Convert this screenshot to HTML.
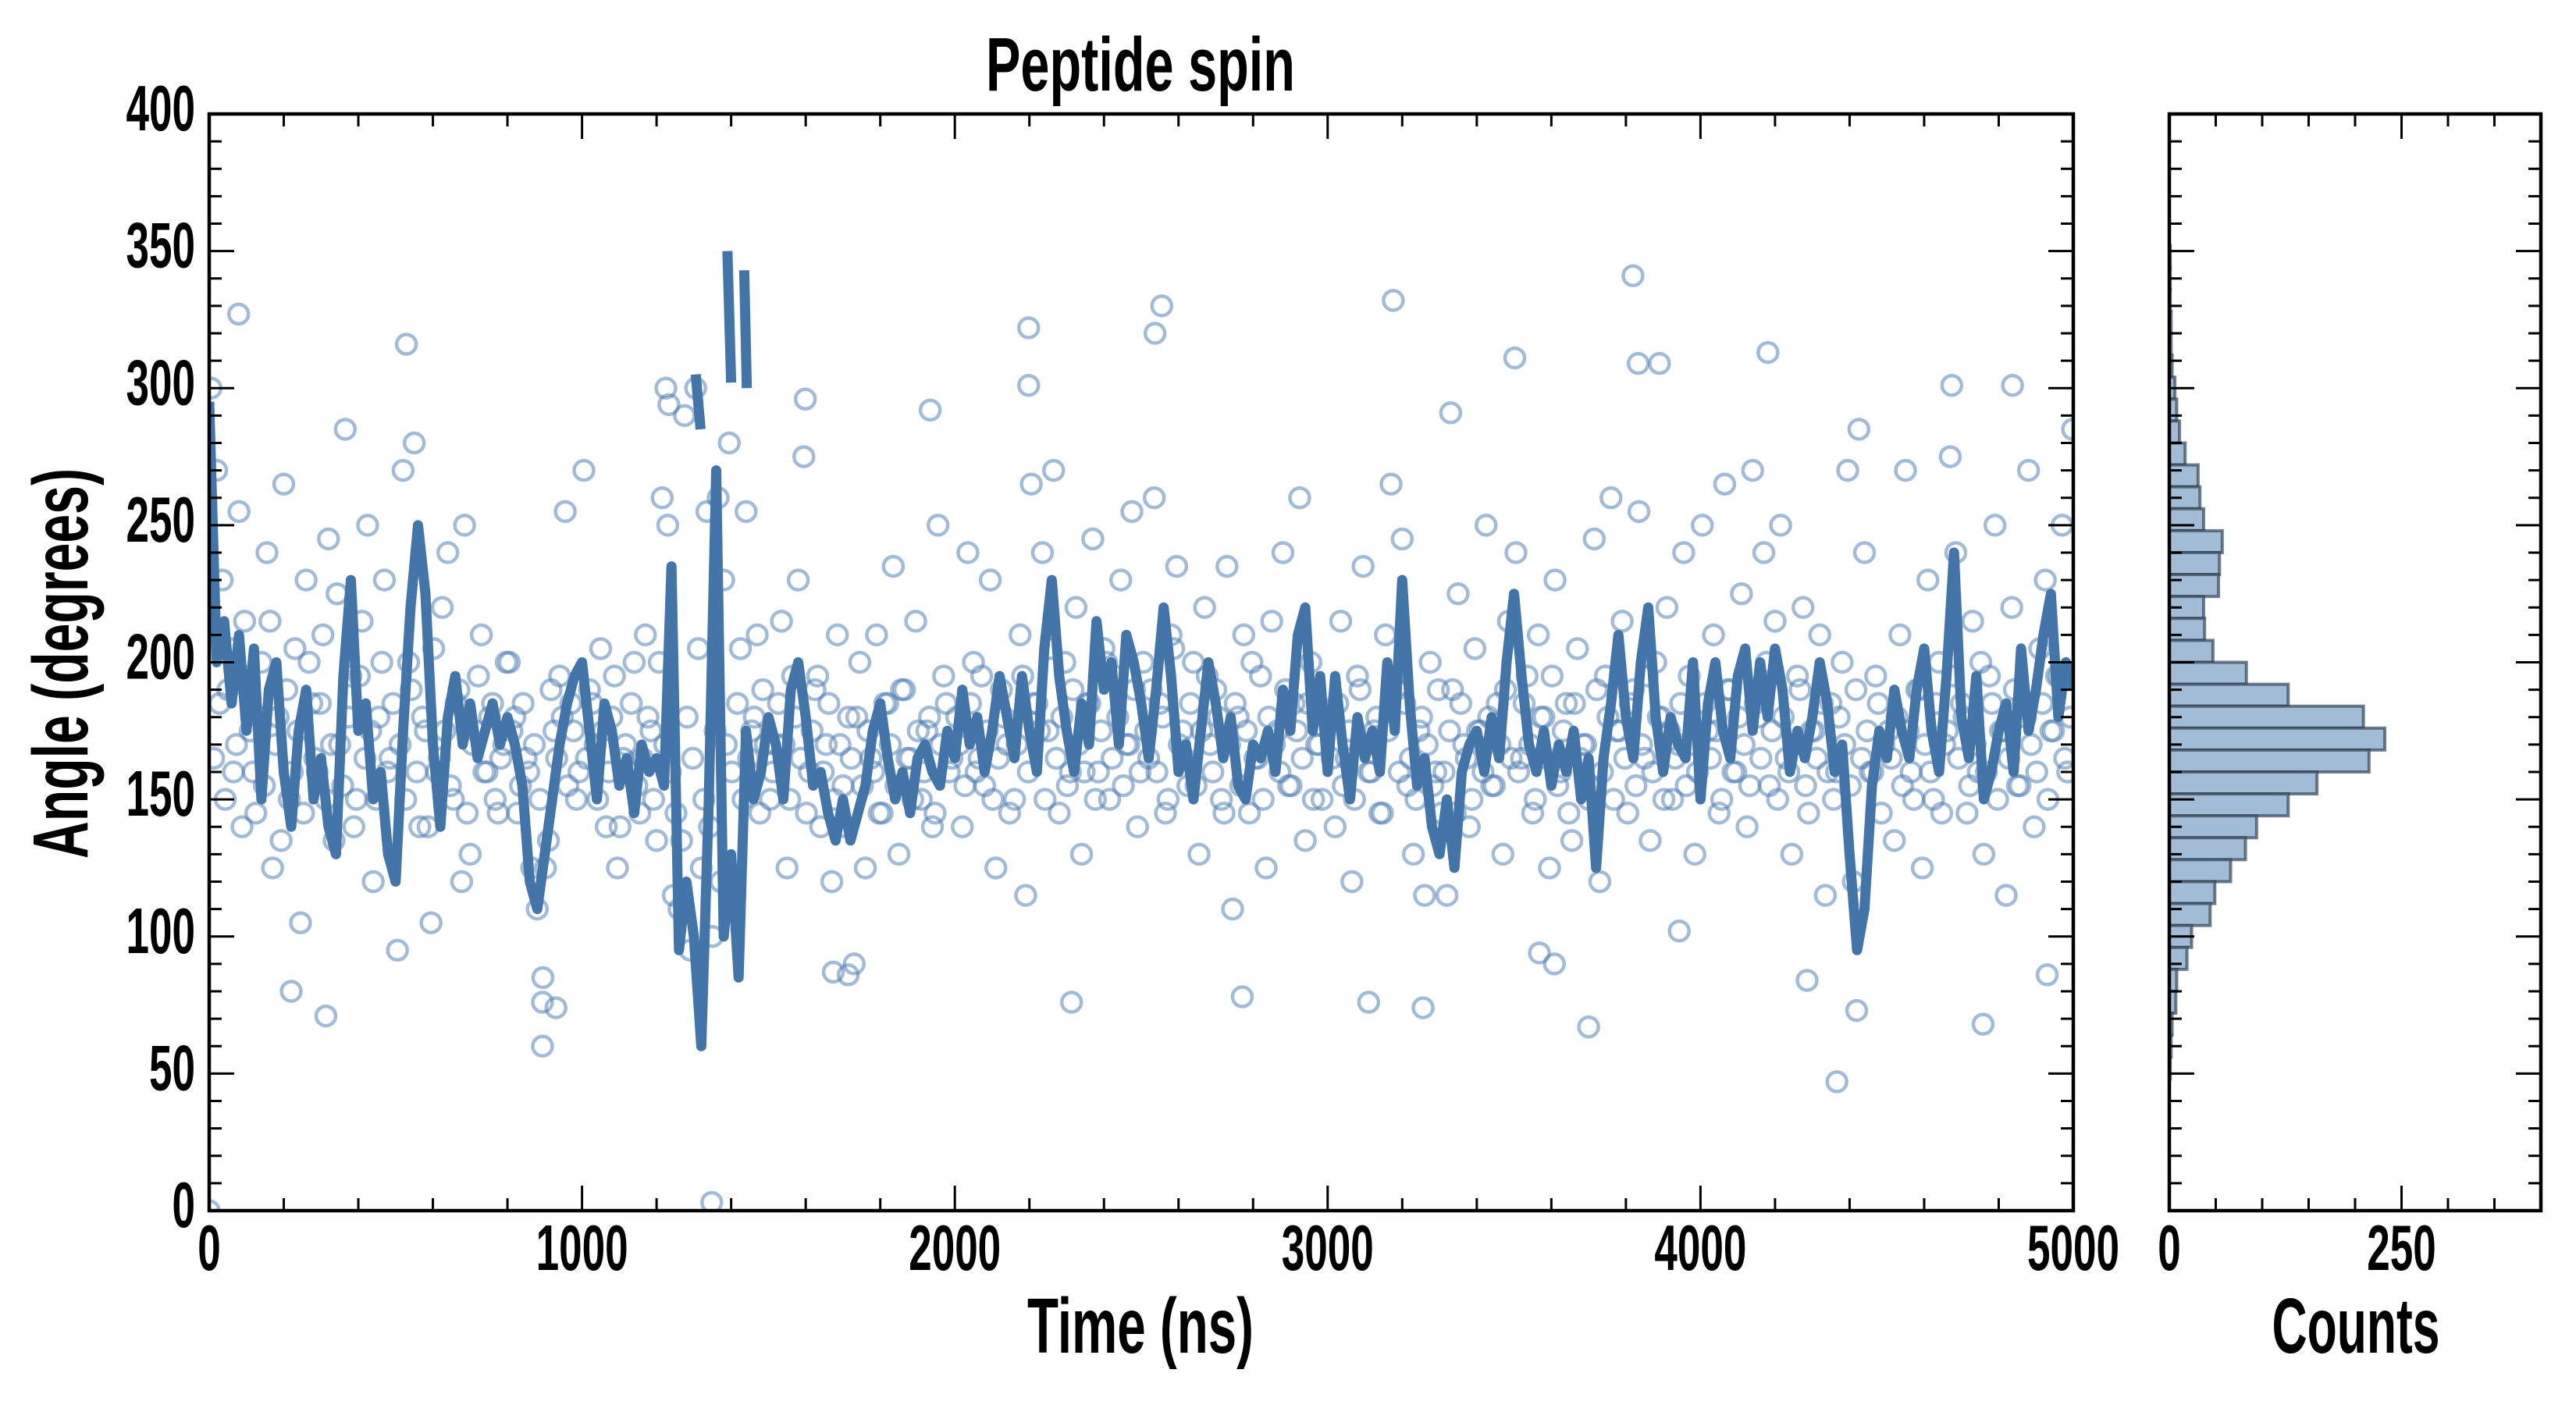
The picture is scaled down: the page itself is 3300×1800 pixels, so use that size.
<!DOCTYPE html>
<html><head><meta charset="utf-8"><style>
html,body{margin:0;padding:0;background:#fff;}
svg{display:block;}
text{font-family:"Liberation Sans",sans-serif;font-weight:bold;fill:#000;}
</style></head><body>
<svg id="chart" xmlns="http://www.w3.org/2000/svg" width="3300" height="1800" viewBox="0 0 3300 1800">
<defs><clipPath id="clipMain"><rect x="268" y="146" width="2388" height="1405"/></clipPath>
<clipPath id="clipHist"><rect x="2779" y="146" width="476" height="1405"/></clipPath></defs>
<rect width="3300" height="1800" fill="#fff"/>
<g id="scatter" clip-path="url(#clipMain)"></g>
<g id="line" clip-path="url(#clipMain)"></g>
<g id="hist" clip-path="url(#clipHist)"></g>
<g id="axes"></g>
<text x="1461" y="116" font-size="97" text-anchor="middle" textLength="396" lengthAdjust="spacingAndGlyphs">Peptide spin</text>
<text x="1461" y="1733" font-size="100" text-anchor="middle" textLength="290" lengthAdjust="spacingAndGlyphs">Time (ns)</text>
<text x="3018" y="1733" font-size="100" text-anchor="middle" textLength="215" lengthAdjust="spacingAndGlyphs">Counts</text>
<text transform="translate(112,850) rotate(-90)" x="0" y="0" font-size="100" text-anchor="middle" textLength="500" lengthAdjust="spacingAndGlyphs">Angle (degrees)</text>
</svg>
<script>
const lineStep = 20;
const lineValues = [295,200,215,185,210,175,205,150,190,200,160,140,175,190,150,165,140,130,195,230,175,185,150,160,130,120,175,220,250,225,170,140,180,195,170,185,165,175,185,170,180,170,155,120,110,130,150,170,185,195,
200,175,150,185,175,155,165,145,170,160,165,155,235,95,120,100,60,150,270,100,130,85,175,150,160,180,170,150,190,200,180,155,160,145,135,150,135,145,155,175,185,165,150,160,145,165,170,160,155,175,
165,190,170,180,160,175,195,180,165,195,175,160,205,230,195,175,160,185,170,215,190,200,170,210,200,185,165,190,220,195,160,170,150,175,200,185,165,180,155,150,170,165,175,160,190,175,210,220,175,195,
160,195,170,150,180,165,175,160,200,175,230,185,155,165,140,130,150,125,160,170,175,160,180,165,200,225,195,170,160,175,155,170,160,175,150,165,125,165,185,210,180,165,200,220,180,160,180,170,165,200,
150,185,200,175,165,195,205,175,200,180,205,190,160,175,165,180,200,185,160,170,130,95,110,155,175,165,190,175,165,190,205,175,160,195,240,180,165,195,150,160,175,185,160,205,175,190,210,225,180,200,190];
const wrapT = [[1305,1318],[1390,1400],[1435,1442]];
const wrapA = [[305,285],[350,302],[343,300]];
const scatterT = [5,20,35,50,65,80,95,110,125,140,155,170,185,200,215,230,245,260,275,290,305,320,335,350,365,380,395,410,425,440,455,470,485,
505,520,535,550,565,580,595,610,625,640,655,670,685,700,715,730,745,760,775,790,805,820,835,850,865,880,895,910,925,940,955,970,985,
1005,1020,1035,1050,1065,1080,1095,1110,1125,1140,1155,1170,1185,1200,1215,1230,1245,1260,1275,1290,1305,1320,1335,1350,1365,1380,1395,1410,1425,1440,1455,1470,1485,
1505,1520,1535,1550,1565,1580,1595,1610,1625,1640,1655,1670,1685,1700,1715,1730,1745,1760,1775,1790,1805,1820,1835,1850,1865,1880,1895,1910,1925,1940,1955,1970,1985,
2005,2020,2035,2050,2065,2080,2095,2110,2125,2140,2160,2175,2190,2205,2220,2235,2250,2265,2280,2295,2310,2325,2340,2355,2370,2385,2400,2415,2430,2445,2460,2475,2490,
2505,2520,2535,2550,2565,2580,2595,2610,2625,2640,2655,2670,2685,2700,2715,2730,2745,2760,2775,2790,2805,2820,2835,2850,2865,2880,2895,2910,2925,2940,2955,2970,2985,
3005,3020,3035,3050,3065,3080,3095,3110,3125,3140,3155,3170,3185,3200,3215,3230,3245,3260,3275,3290,3305,3320,3335,3350,3365,3380,3395,3410,3425,3440,3455,3470,3485,
3505,3520,3535,3550,3565,3580,3595,3610,3625,3640,3655,3670,3685,3700,3715,3730,3745,3760,3775,3790,3805,3820,3835,3850,3865,3880,3895,3910,3925,3940,3955,3970,3985,
4005,4020,4035,4050,4065,4080,4095,4110,4125,4140,4155,4170,4185,4200,4215,4230,4245,4260,4275,4290,4305,4320,4335,4350,4365,4380,4395,4410,4425,4440,4455,4470,4485,
4505,4520,4535,4550,4565,4580,4595,4610,4625,4640,4655,4670,4685,4700,4715,4730,4745,4760,4775,4790,4805,4820,4835,4850,4865,4880,4895,4910,4925,4940,4955,4970,4985,4998,
79,529,3819,3176,2555,2537,2198,2198,3502,4181,4837,4674,3833,3890,1599,1934,3330,1225,1233,894,894,930,313,220,2313,2771,3110,3256,3700,4366,4419,4758,4286,1348,0,4930,1714,1674,3608,3568,3943,
12,28,43,58,73,88,103,118,133,148,163,178,193,208,223,238,253,268,283,298,313,328,343,358,373,388,403,418,433,448,463,478,493,
512,527,542,557,572,587,602,617,632,647,662,677,692,707,722,737,752,767,782,797,812,827,842,857,872,887,902,917,932,947,962,977,992,
1012,1027,1042,1057,1072,1087,1102,1117,1132,1147,1162,1177,1192,1207,1222,1237,1252,1267,1282,1297,1312,1327,1342,1357,1372,1387,1402,1417,1432,1447,1462,1477,1492,
1512,1527,1542,1557,1572,1587,1602,1617,1632,1647,1662,1677,1692,1707,1722,1737,1752,1767,1782,1797,1812,1827,1842,1857,1872,1887,1902,1917,1932,1947,1962,1977,1992,
2012,2027,2042,2057,2072,2087,2102,2117,2132,2147,2167,2182,2197,2212,2227,2242,2257,2272,2287,2302,2317,2332,2347,2362,2377,2392,2407,2422,2437,2452,2467,2482,2497,
2512,2527,2542,2557,2572,2587,2602,2617,2632,2647,2662,2677,2692,2707,2722,2737,2752,2767,2782,2797,2812,2827,2842,2857,2872,2887,2902,2917,2932,2947,2962,2977,2992,
3012,3027,3042,3057,3072,3087,3102,3117,3132,3147,3162,3177,3192,3207,3222,3237,3252,3267,3282,3297,3312,3327,3342,3357,3372,3387,3402,3417,3432,3447,3462,3477,3492,
3512,3527,3542,3557,3572,3587,3602,3617,3632,3647,3662,3677,3692,3707,3722,3737,3752,3767,3782,3797,3812,3827,3842,3857,3872,3887,3902,3917,3932,3947,3962,3977,3992,
4012,4027,4042,4057,4072,4087,4102,4117,4132,4147,4162,4177,4192,4207,4222,4237,4252,4267,4282,4297,4312,4327,4342,4357,4372,4387,4402,4417,4432,4447,4462,4477,4492,
4512,4527,4542,4557,4572,4587,4602,4617,4632,4647,4662,4677,4692,4707,4722,4737,4752,4767,4782,4797,4812,4827,4842,4857,4872,4887,4902,4917,4932,4947,4962,4977,4992];
const scatterA = [300,270,230,190,160,255,215,175,145,200,240,125,180,265,150,205,105,230,185,160,210,245,135,170,285,195,150,215,250,120,180,230,165,
95,270,200,280,140,175,105,160,220,240,150,190,250,130,175,210,160,185,145,170,200,180,155,165,125,110,85,135,175,195,255,185,150,
270,190,170,205,140,180,125,165,160,200,145,210,175,135,260,250,115,110,290,95,300,125,255,100,260,230,280,115,205,255,175,210,190,
150,170,215,125,195,230,275,160,190,140,170,120,210,155,180,90,200,125,165,210,145,185,235,130,190,165,215,150,175,140,250,195,160,
180,140,240,200,165,155,230,125,190,170,150,210,115,265,185,240,175,270,145,200,160,220,130,185,245,160,205,150,195,230,170,255,140,
200,165,260,185,145,210,235,175,155,200,130,220,170,190,150,235,110,180,210,145,165,195,125,215,175,240,155,185,260,135,200,170,150,
180,140,215,165,120,195,235,160,175,145,210,265,190,245,155,130,175,115,200,160,145,115,190,225,170,140,205,175,250,155,185,130,215,
240,165,195,145,210,180,125,230,160,185,135,205,170,150,245,120,195,260,175,215,145,190,255,165,135,200,180,220,150,170,240,195,130,
250,175,210,145,265,190,160,225,140,270,180,240,155,215,250,165,130,195,220,145,175,210,115,185,160,200,270,120,285,240,160,195,145,
175,135,210,270,160,190,125,230,150,200,170,275,240,185,145,215,160,130,195,250,175,115,220,155,185,270,140,205,230,175,195,250,160,285,
327,316,341,332,330,320,322,301,311,313,301,301,309,309,296,292,291,300,294,76,60,74,71,80,76,78,76,74,67,47,73,68,84,3,0,86,86,87,90,94,102,
165,185,150,205,170,140,195,160,180,155,215,170,135,190,160,175,145,200,165,185,150,170,225,155,180,140,195,165,175,150,200,160,185,
170,150,190,160,180,140,205,165,175,155,185,120,145,170,195,160,180,150,165,200,175,145,185,160,170,150,125,190,165,180,155,175,160,
165,185,150,175,160,195,140,170,185,155,165,180,150,200,170,160,145,135,180,165,205,150,140,175,120,170,160,185,150,165,180,145,170,
160,185,170,150,180,165,145,175,195,160,185,150,170,140,165,180,155,175,160,145,185,170,155,190,165,150,175,160,180,145,170,185,165,
170,155,185,160,195,175,150,165,180,145,170,195,160,185,175,150,205,165,180,155,190,170,160,185,150,175,200,165,180,155,170,190,160,
175,190,160,180,150,205,170,165,185,155,175,195,160,180,145,170,185,155,175,200,165,150,180,170,160,190,155,175,165,185,150,170,180,
165,185,155,175,150,190,170,160,180,145,175,195,160,185,165,150,180,170,155,190,160,175,145,185,165,150,175,160,180,155,170,190,165,
160,185,170,150,180,165,195,155,175,145,185,165,170,155,190,160,180,150,175,165,185,155,170,195,160,180,150,175,165,185,155,170,160,
185,165,175,150,190,160,180,170,155,185,165,200,175,150,180,160,170,190,155,175,165,185,160,150,180,170,155,190,165,175,160,185,170,
165,180,155,175,150,190,170,160,185,145,175,195,165,180,155,170,200,160,185,150,175,165,190,155,180,170,160,185,150,175,195,165,180];
const histBinStart = [344,336,328,320,312,304,296,288,280,272,264,256,248,240,232,224,216,208,200,192,184,176,168,160,152,144,136,128,120,112,104,96,88,80,72,64,56,48];
const histCounts = [1,1,1,2,2,3,6,8,11,17,31,33,37,57,54,53,37,38,47,83,128,209,232,215,159,128,94,82,66,49,44,24,19,8,7,3,2,1];
const histBinWidth = 8;
const xTicks = [0,1000,2000,3000,4000,5000];
const yTicks = [0,50,100,150,200,250,300,350,400];
const cTicks = [0,250];

const NS='http://www.w3.org/2000/svg';
const X0=268,X1=2656,Y0=1551,Y1=146,H0=2779,H1=3255;
const xs = t => X0 + (t/5000)*(X1-X0);
const ys = a => Y0 - (a/400)*(Y0-Y1);
const hs = c => H0 + (c/400)*(H1-H0);
function mk(tag, attrs, parent){const e=document.createElementNS(NS,tag);for(const k in attrs)e.setAttribute(k,attrs[k]);parent.appendChild(e);return e;}

const gs=document.getElementById('scatter');
for(let i=0;i<scatterT.length;i++){
  const c=mk('circle',{cx:xs(scatterT[i]),cy:ys(scatterA[i]),r:12.5,fill:'none',stroke:'#4a78ad','stroke-opacity':0.5,'stroke-width':4.5},gs);
  
  
}
const gl=document.getElementById('line');
let d='';
for(let i=0;i<lineValues.length;i++){d+=(i?'L':'M')+xs(i*lineStep).toFixed(1)+' '+ys(lineValues[i]).toFixed(1);}
const lp=mk('path',{d:d,fill:'none',stroke:'#4475a8','stroke-width':13,'stroke-linejoin':'round'},gl);


for(let k=0;k<wrapT.length;k++){
  const s=mk('path',{d:'M'+xs(wrapT[k][0])+' '+ys(wrapA[k][0])+'L'+xs(wrapT[k][1])+' '+ys(wrapA[k][1]),fill:'none',stroke:'#4475a8','stroke-width':13},gl);
  
  
}
const gh=document.getElementById('hist');
for(let i=0;i<histCounts.length;i++){
  const yt=ys(histBinStart[i]+histBinWidth), yb=ys(histBinStart[i]);
  const r=mk('rect',{x:H0,y:yt,width:hs(histCounts[i])-H0,height:yb-yt,fill:'#a2bbd6',stroke:'#2b3a4c','stroke-opacity':0.65,'stroke-width':4},gh);
  
  
}
const ga=document.getElementById('axes');
function line(x1,y1,x2,y2,w){mk('line',{x1:x1,y1:y1,x2:x2,y2:y2,stroke:'#000','stroke-width':w},ga);}
function label(x,y,txt,anchor,name){
  const t=mk('text',{x:x,y:y,'font-size':83,'text-anchor':anchor,textLength:29.5*txt.length,lengthAdjust:'spacingAndGlyphs'},ga);
  t.textContent=txt;
  
  
}
const f1=mk('rect',{x:X0,y:Y1,width:X1-X0,height:Y0-Y1,fill:'none',stroke:'#000','stroke-width':4.5},ga);


const f2=mk('rect',{x:H0,y:Y1,width:H1-H0,height:Y0-Y1,fill:'none',stroke:'#000','stroke-width':4.5},ga);


for(let a=0;a<=400;a+=10){
  const y=ys(a), L=(a%50===0)?32:16;
  [[X0,1],[X1,-1],[H0,1],[H1,-1]].forEach(p=>line(p[0],y,p[0]+p[1]*L,y,3));
}
for(let t=0;t<=5000;t+=200){const x=xs(t),L=(t%1000===0)?32:16;line(x,Y0,x,Y0-L,3);line(x,Y1,x,Y1+L,3);}
for(let c=0;c<=400;c+=50){const x=hs(c),L=(c%250===0)?32:16;line(x,Y0,x,Y0-L,3);line(x,Y1,x,Y1+L,3);}
yTicks.forEach(v=>label(X0-18,ys(v)+21,String(v),'end','y-tick-label'));
xTicks.forEach(v=>label(xs(v),1627,String(v),'middle','x-tick-label'));
cTicks.forEach(v=>label(hs(v),1627,String(v),'middle','count-tick-label'));
</script>
</body></html>
